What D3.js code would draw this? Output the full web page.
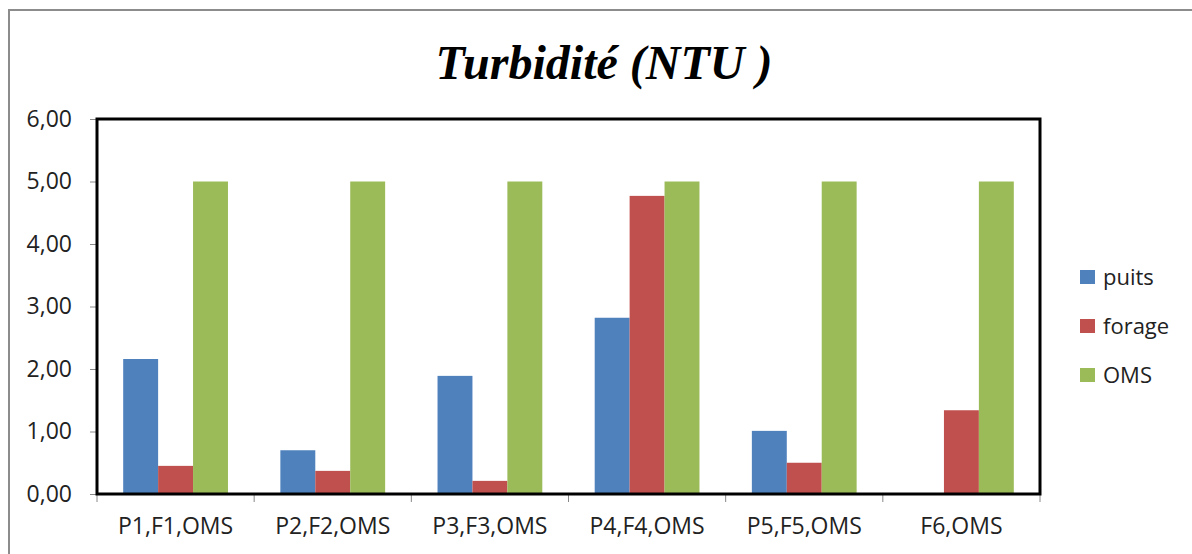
<!DOCTYPE html>
<meta charset="utf-8">
<script src="https://d3js.org/d3.v7.min.js"></script>
<style>
  body { margin: 0; background: #fff; }
</style>
<div id="my_dataviz"></div>
<script>

// data
var categories = ["P1,F1,OMS", "P2,F2,OMS", "P3,F3,OMS", "P4,F4,OMS", "P5,F5,OMS", "F6,OMS"];
var seriesNames = ["puits", "forage", "OMS"];
var puits  = [2.16, 0.70, 1.89, 2.82, 1.01, 0];
var forage = [0.45, 0.37, 0.21, 4.77, 0.50, 1.34];
var oms    = [5, 5, 5, 5, 5, 5];
var yTicks = [0, 1, 2, 3, 4, 5, 6];
var colors = ["#4F81BD", "#C0504D", "#9BBB59"];

var W = 1192, H = 554;
var margin = {top: 119, right: 152, bottom: 60, left: 97},
    width = W - margin.left - margin.right,
    height = H - margin.top - margin.bottom;

var labelFont = "'Open Sans', 'Liberation Sans', sans-serif";

var root = d3.select("#my_dataviz")
  .append("svg")
    .attr("width", W)
    .attr("height", H);

// outer chart frame
root.append("rect")
  .attr("x", 9).attr("y", 10)
  .attr("width", W + 20).attr("height", H + 20)
  .attr("fill", "none")
  .attr("stroke", "#8c8c8c")
  .attr("stroke-width", 2);

// title
root.append("text")
  .attr("x", 604).attr("y", 79)
  .attr("text-anchor", "middle")
  .style("font-family", "'Liberation Serif', 'Times New Roman', serif")
  .style("font-weight", "bold")
  .style("font-style", "italic")
  .style("font-size", "48px")
  .text("Turbidité (NTU )");

var svg = root.append("g")
  .attr("transform", "translate(" + margin.left + "," + margin.top + ")");

var x0 = d3.scaleBand()
  .domain(categories)
  .range([0, width])
  .paddingInner(0)
  .paddingOuter(0);

var x1 = d3.scaleBand()
  .domain(seriesNames)
  .range([0, x0.bandwidth() * 3 / 4.5])
  .padding(0);

var y = d3.scaleLinear()
  .domain([0, 6])
  .range([height, 0]);

var allSeries = [puits, forage, oms];

// bars
seriesNames.forEach(function(name, si) {
  svg.append("g")
    .selectAll("rect")
    .data(allSeries[si])
    .enter().append("rect")
      .attr("x", function(d, i) {
        return x0(categories[i]) + (x0.bandwidth() - x1.range()[1]) / 2 + x1(name);
      })
      .attr("y", function(d) { return y(d); })
      .attr("width", x1.bandwidth())
      .attr("height", function(d) { return height - y(d); })
      .attr("fill", colors[si]);
});

// y axis
var yAxis = svg.append("g")
  .call(d3.axisLeft(y)
    .tickValues(yTicks)
    .tickSize(7)
    .tickPadding(18)
    .tickFormat(function(d) { return d3.format(".2f")(d).replace(".", ","); }));
yAxis.select(".domain").remove();
yAxis.selectAll("line").attr("stroke", "#888");
yAxis.selectAll("text")
  .style("font-family", labelFont)
  .style("font-size", "23px")
  .attr("fill", "#222");

// x axis
var xAxis = svg.append("g")
  .attr("transform", "translate(0," + height + ")")
  .call(d3.axisBottom(x0).tickSize(0).tickPadding(24));
xAxis.select(".domain").remove();
xAxis.selectAll("text")
  .style("font-family", labelFont)
  .style("font-size", "23px")
  .attr("fill", "#222");

// category boundary ticks
svg.append("g")
  .selectAll("line")
  .data(categories.concat(["end"]))
  .enter().append("line")
    .attr("x1", function(d, i) { return i * x0.bandwidth(); })
    .attr("x2", function(d, i) { return i * x0.bandwidth(); })
    .attr("y1", height)
    .attr("y2", height + 8)
    .attr("stroke", "#888");

// plot area border
svg.append("rect")
  .attr("x", 0).attr("y", 0)
  .attr("width", width).attr("height", height)
  .attr("fill", "none")
  .attr("stroke", "#000")
  .attr("stroke-width", 3);

// legend
var legend = root.append("g")
  .attr("transform", "translate(1080,270)");
seriesNames.forEach(function(name, i) {
  var g = legend.append("g").attr("transform", "translate(0," + (i * 49) + ")");
  g.append("rect")
    .attr("width", 15).attr("height", 14)
    .attr("fill", colors[i]);
  g.append("text")
    .attr("x", 23).attr("y", 15)
    .style("font-family", labelFont)
    .style("font-size", "22px")
    .attr("fill", "#222")
    .text(name);
});

</script>
